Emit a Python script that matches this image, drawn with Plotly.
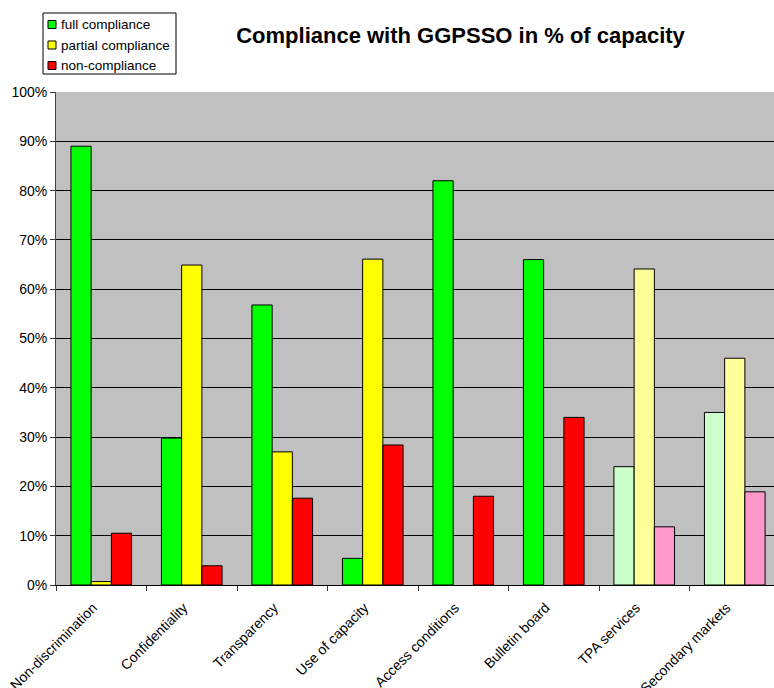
import plotly.graph_objects as go

categories = ["Non-discrimination", "Confidentiality", "Transparency", "Use of capacity",
              "Access conditions", "Bulletin board", "TPA services", "Secondary markets"]
full_compliance = [89.0, 29.8, 56.8, 5.4, 82.0, 66.0, 24.0, 35.0]
partial_compliance = [0.7, 64.9, 27.0, 66.1, 0.0, 0.0, 64.1, 46.0]
non_compliance = [10.5, 3.9, 17.6, 28.4, 18.0, 34.0, 11.8, 18.9]

series_names = ["full compliance", "partial compliance", "non-compliance"]
strong_colors = ["#00FF00", "#FFFF00", "#FF0000"]
light_colors = ["#CCFFCC", "#FFFF99", "#FF99CC"]
light_from = 6  # the last two categories use lighter shades

font = "Liberation Sans, Arial, sans-serif"

W, H = 774, 688
L, R, T, B = 56, 0, 92, 103
plot_w, plot_h = W - L - R, H - T - B
slot_px = 90.5  # width of one category slot

n = len(categories)
positions = list(range(n))


def px_x(x):
    return (x - L) / plot_w


def px_y(y):
    return (H - B - y) / plot_h


fig = go.Figure()
for name, vals, strong, light in zip(series_names,
                                     [full_compliance, partial_compliance, non_compliance],
                                     strong_colors, light_colors):
    cols = [strong if i < light_from else light for i in range(n)]
    widths = [1 if v > 0 else 0 for v in vals]
    fig.add_trace(go.Bar(
        name=name, x=positions, y=vals, customdata=categories,
        hovertemplate="%{customdata}: %{y}%<extra>" + name + "</extra>",
        marker=dict(color=cols, line=dict(color="black", width=widths)),
        showlegend=False,
    ))

# legend box in the top-left corner
shapes = [dict(type="rect", xref="paper", yref="paper",
               x0=px_x(43), x1=px_x(176), y0=px_y(74), y1=px_y(13),
               line=dict(color="black", width=1), fillcolor="white", layer="above")]
annotations = []
for i, (name, col) in enumerate(zip(series_names, strong_colors)):
    cy = 24.5 + 20.5 * i
    shapes.append(dict(type="rect", xref="paper", yref="paper",
                       x0=px_x(48), x1=px_x(56), y0=px_y(cy + 4), y1=px_y(cy - 4),
                       line=dict(color="black", width=1), fillcolor=col, layer="above"))
    annotations.append(dict(text=name, xref="paper", yref="paper",
                            x=px_x(59), y=px_y(cy), xanchor="left", yanchor="middle",
                            showarrow=False, font=dict(size=13.5, family=font, color="black")))

fig.update_layout(
    width=W, height=H,
    margin=dict(l=L, r=R, t=T, b=B),
    paper_bgcolor="white",
    plot_bgcolor="#C0C0C0",
    barmode="group", bargap=0.33, bargroupgap=0,
    font=dict(family=font, size=13, color="black"),
    title=dict(text="<b>Compliance with GGPSSO in % of capacity</b>",
               x=0.595, xanchor="center", y=0.948, yanchor="middle",
               font=dict(size=22, family=font, color="black")),
    shapes=shapes,
    annotations=annotations,
    showlegend=False,
)
# category labels sit slightly left of the slot centre; tick marks on slot boundaries
fig.update_xaxes(
    type="linear", range=[-0.5, -0.5 + plot_w / slot_px],
    tickmode="array", tickvals=[p - 0.09 for p in positions], ticktext=categories,
    tickangle=-45, ticks="", showgrid=False,
    minor=dict(tickmode="array", tickvals=[p - 0.5 for p in positions + [n]],
               ticks="outside", ticklen=5, tickcolor="#333333", showgrid=False),
    showline=True, linecolor="black", linewidth=1, zeroline=False,
    tickfont=dict(size=14, family=font),
    ticklabelstandoff=8, automargin=False,
)
fig.update_yaxes(
    range=[0, 100], dtick=10, ticksuffix="%",
    ticks="outside", ticklen=5, tickcolor="#333333",
    showline=True, linecolor="#444444", linewidth=1,
    showgrid=True, gridcolor="black", gridwidth=1,
    zeroline=False, tickfont=dict(size=14, family=font),
    automargin=False,
)

fig.write_html("out.html")
